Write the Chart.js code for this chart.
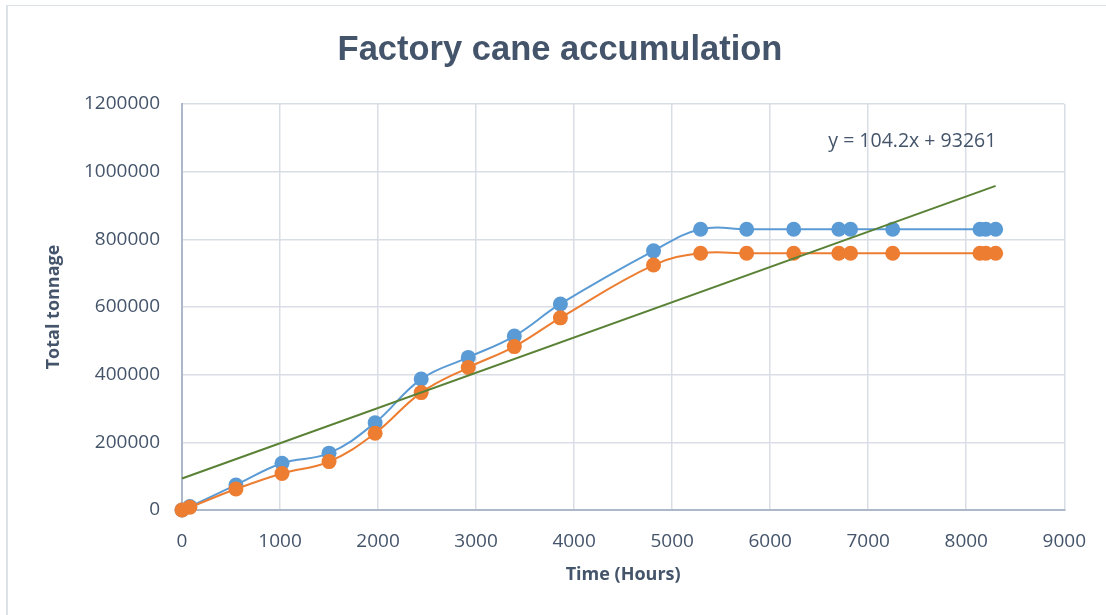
<!DOCTYPE html>
<html>
<head>
<meta charset="utf-8">
<script src="https://cdn.jsdelivr.net/npm/chart.js@4.4.1/dist/chart.umd.min.js"></script>
<style>
  html, body { margin: 0; padding: 0; background: #ffffff; }
  #wrap { position: relative; width: 1106px; height: 615px; overflow: hidden; }
  #frame { position: absolute; left: 6px; top: 5px; width: 1200px; height: 700px;
           border-left: 2px solid #dde2e8; border-top: 1px solid #dde2e8; pointer-events: none; }
  canvas { position: absolute; left: 0; top: 0; }
</style>
</head>
<body>
<div id="wrap">
  <canvas id="chart" width="1106" height="615"></canvas>
  <div id="frame"></div>
</div>
<script>
// Crushing hours and cumulative cane tonnage
const hours = [0, 80, 550, 1020, 1500, 1970, 2440, 2920, 3390, 3860, 4810,
               5290, 5760, 6240, 6700, 6820, 7250, 8140, 8200, 8300];
const caneDelivered = [0, 10000, 74000, 138000, 168000, 258000, 387000, 451000, 514000, 609000, 766000,
                       830000, 830000, 830000, 830000, 830000, 830000, 830000, 830000, 830000];
const caneCrushed = [0, 8000, 62000, 108000, 143000, 227000, 347000, 421000, 483000, 568000, 724000,
                     759000, 759000, 759000, 759000, 759000, 759000, 759000, 759000, 759000];

// Linear trendline y = slope * x + intercept
const trendSlope = 104.2;
const trendIntercept = 93261;
const trendRange = [0, 8300];
const trendLabel = 'y = 104.2x + 93261';

const chartTitle = 'Factory cane accumulation';
const xTicks = [0, 1000, 2000, 3000, 4000, 5000, 6000, 7000, 8000, 9000];
const yTicks = [0, 200000, 400000, 600000, 800000, 1000000, 1200000];

const toPoints = (xs, ys) => xs.map((x, i) => ({ x: x, y: ys[i] }));
const trendPoints = trendRange.map(x => ({ x: x, y: trendSlope * x + trendIntercept }));

const textColor = '#44546A';
const gridColor = '#D9DEE6';
const axisColor = '#ADB8C8';
const baseFont = "'Open Sans', 'Liberation Sans', sans-serif";

// Chart heading, centred over the whole chart frame
const headingPlugin = {
  id: 'heading',
  afterDraw(chart) {
    const { ctx } = chart;
    ctx.save();
    ctx.font = "bold 34.5px 'Liberation Sans', sans-serif";
    ctx.fillStyle = textColor;
    ctx.textAlign = 'center';
    ctx.textBaseline = 'middle';
    ctx.fillText(chartTitle, 560, 50);
    ctx.restore();
  }
};

// Equation of the fitted trendline
const trendLabelPlugin = {
  id: 'trendLabel',
  afterDatasetsDraw(chart) {
    const { ctx, scales } = chart;
    ctx.save();
    ctx.font = "19.5px " + baseFont;
    ctx.fillStyle = textColor;
    ctx.textAlign = 'center';
    ctx.textBaseline = 'middle';
    ctx.fillText(trendLabel, scales.x.getPixelForValue(7450), scales.y.getPixelForValue(1090000));
    ctx.restore();
  }
};

new Chart(document.getElementById('chart'), {
  type: 'scatter',
  data: {
    datasets: [
      {
        label: 'Linear trend',
        data: trendPoints,
        showLine: true,
        borderColor: '#5A8236',
        borderWidth: 2,
        pointRadius: 0,
        tension: 0,
        clip: false,
        order: 0
      },
      {
        label: 'Crushed',
        data: toPoints(hours, caneCrushed),
        showLine: true,
        borderColor: '#ED7D31',
        backgroundColor: '#ED7D31',
        borderWidth: 2,
        pointRadius: 7.5,
        pointBorderWidth: 0,
        tension: 0.4,
        clip: false,
        order: 1
      },
      {
        label: 'Delivered',
        data: toPoints(hours, caneDelivered),
        showLine: true,
        borderColor: '#5B9BD5',
        backgroundColor: '#5B9BD5',
        borderWidth: 2,
        pointRadius: 7.5,
        pointBorderWidth: 0,
        tension: 0.4,
        clip: false,
        order: 2
      }
    ]
  },
  options: {
    responsive: false,
    animation: false,
    layout: { padding: { left: 0, right: 41, top: 104, bottom: 0 } },
    plugins: {
      legend: { display: false },
      tooltip: { enabled: false },
      title: { display: false }
    },
    scales: {
      x: {
        type: 'linear',
        min: 0,
        max: 9000,
        afterBuildTicks(scale) { scale.ticks = xTicks.map(v => ({ value: v })); },
        afterFit(scale) { scale.height = 105; },
        grid: { color: gridColor, lineWidth: 1.5, drawTicks: false },
        border: { color: axisColor, width: 2 },
        ticks: {
          color: textColor,
          font: { family: baseFont, size: 19 },
          padding: 20,
          maxRotation: 0,
          callback: v => String(v)
        },
        title: {
          display: true,
          text: 'Time (Hours)',
          color: textColor,
          font: { family: baseFont, size: 18, weight: 'bold', lineHeight: 1.2 },
          padding: { top: 0, bottom: 29 }
        }
      },
      y: {
        type: 'linear',
        min: 0,
        max: 1200000,
        afterBuildTicks(scale) { scale.ticks = yTicks.map(v => ({ value: v })); },
        afterFit(scale) { scale.width = 182; },
        grid: { color: gridColor, lineWidth: 1.5, drawTicks: false },
        border: { color: axisColor, width: 2 },
        ticks: {
          color: textColor,
          font: { family: baseFont, size: 19 },
          padding: 22,
          callback: v => String(v)
        },
        title: {
          display: true,
          text: 'Total tonnage',
          color: textColor,
          font: { family: baseFont, size: 18, weight: 'bold', lineHeight: 1.2 },
          padding: { top: 43, bottom: 0 }
        }
      }
    }
  },
  plugins: [trendLabelPlugin, headingPlugin]
});
</script>
</body>
</html>
